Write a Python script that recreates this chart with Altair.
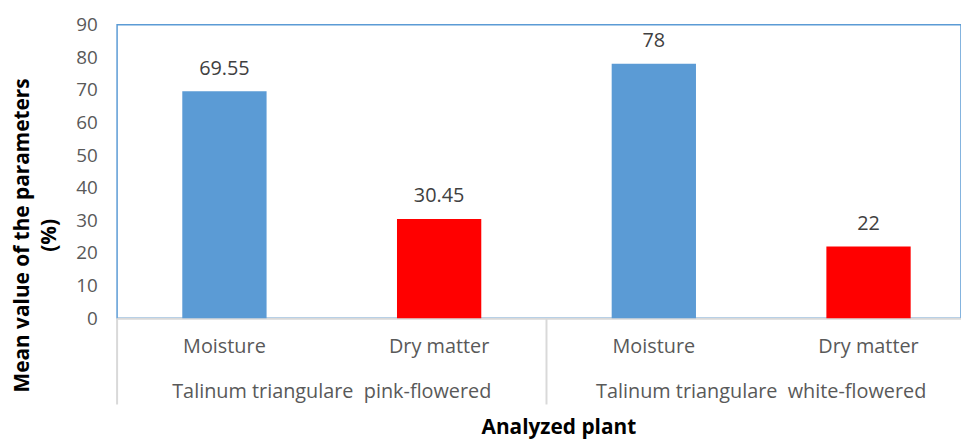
import altair as alt
import pandas as pd

plants = ["Talinum triangulare\u00a0 pink-flowered", "Talinum triangulare\u00a0 white-flowered"]
params = ["Moisture", "Dry matter"]
values = [69.55, 30.45, 78, 22]
value_labels = ["69.55", "30.45", "78", "22"]
colors = ["#5B9BD5", "#FF0000"]

rows = []
k = 0
for i, p in enumerate(plants):
    for j, q in enumerate(params):
        rows.append({"key": f"{i}|{q}", "plant": p, "param": q,
                     "value": values[k], "label": value_labels[k]})
        k += 1
df = pd.DataFrame(rows)
gdf = pd.DataFrame({"plant": plants})
keys = list(df["key"])

W_RANGE = 866
xs = alt.Scale(domain=keys, range=[0, W_RANGE], paddingInner=0, paddingOuter=0)
ys = alt.Scale(domain=[0, 90], nice=False)

yaxis = alt.Axis(values=list(range(0, 91, 10)), grid=False, ticks=False,
                 domain=False, labelFontSize=19, labelColor="#595959",
                 labelFont="Open Sans", labelPadding=20, labelOverlap=False,
                 title=["Mean value of the parameters", "(%)"],
                 titleFont="Open Sans", titleFontSize=21, titleFontWeight="bold",
                 titleColor="#000000", titleAngle=270, titleX=-89, titleY=212,
                 titleBaseline="alphabetic", titleAlign="center",
                 titleLineHeight=27)

base = alt.Chart(df)

bars = base.mark_bar(size=85).encode(
    x=alt.X("key:N", scale=xs, sort=keys,
            axis=alt.Axis(labelExpr="split(datum.label, '|')[1]", labelAngle=0,
                          ticks=False, labelPadding=19, labelFontSize=20,
                          labelColor="#595959", labelFont="Open Sans",
                          domainColor="#D9D9D9", domainWidth=2,
                          title="Analyzed plant", titleFont="Open Sans",
                          titleFontSize=21, titleFontWeight="bold", titleColor="#000000",
                          titleX=445, titleY=116, titleBaseline="alphabetic",
                          titleAnchor="start", titleAlign="center")),
    y=alt.Y("value:Q", scale=ys, axis=yaxis),
    color=alt.Color("param:N", scale=alt.Scale(domain=params, range=colors), legend=None),
)

texts = base.mark_text(baseline="alphabetic", dy=-17, fontSize=20, font="Open Sans",
                       color="#404040").encode(
    x=alt.X("key:N", scale=xs, sort=keys, axis=None),
    y=alt.Y("value:Q", scale=ys, axis=yaxis),
    text="label:N",
)

gs = alt.Scale(domain=plants, range=[0, W_RANGE], paddingInner=0, paddingOuter=0)

group_text = alt.Chart(gdf).mark_text(baseline="middle", fontSize=20, font="Open Sans",
                                      color="#595959").encode(
    x=alt.X("plant:N", scale=gs, sort=plants, axis=None),
    y=alt.value(370),
    text="plant:N",
)

dividers = alt.Chart(gdf).mark_rule(color="#D9D9D9", strokeWidth=2).encode(
    x=alt.X("plant:N", scale=gs, sort=plants, axis=None, bandPosition=0),
    y=alt.value(296),
    y2=alt.value(383),
)

chart = alt.layer(bars, texts, group_text, dividers).resolve_scale(
    x="independent"
).properties(
    width=851, height=296,
    padding={"left": 110, "top": 15, "right": 0, "bottom": 121},
    autosize=alt.AutoSizeParams(type="none"),
).configure_view(
    stroke="#5B9BD5", strokeWidth=1.5
).configure_axis(labelFont="Open Sans")

chart.save("out.html", embed_options={"renderer": "svg", "actions": False})
